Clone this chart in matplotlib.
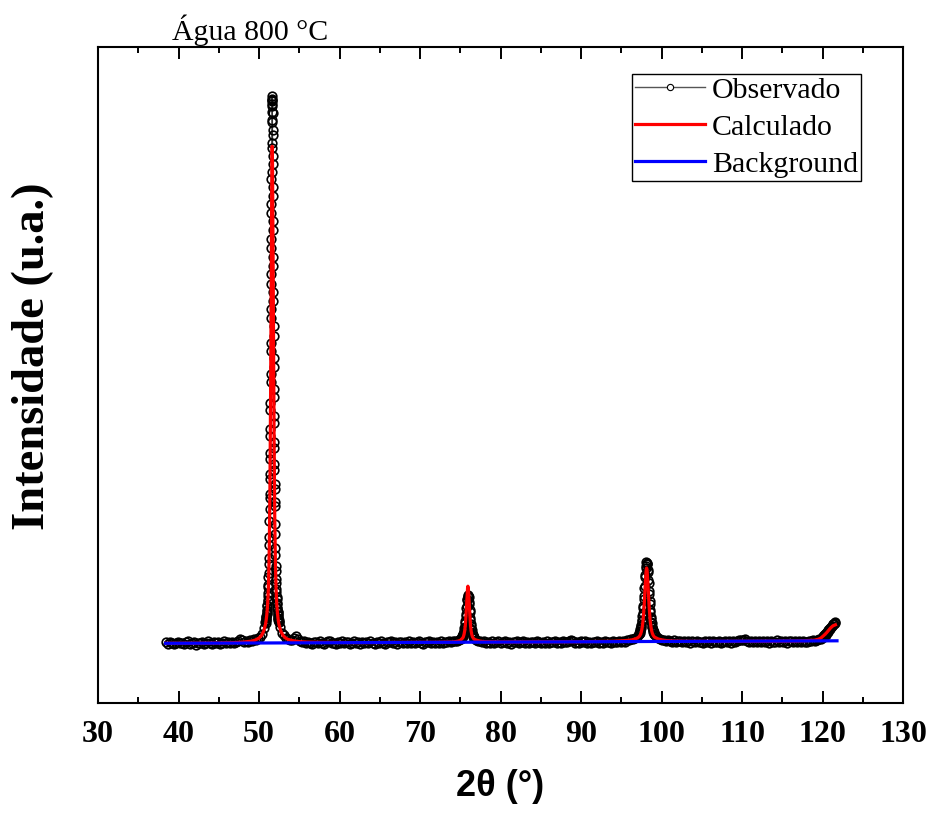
import numpy as np
import matplotlib
matplotlib.use("Agg")
import matplotlib.pyplot as plt
from matplotlib.lines import Line2D

plt.rcParams["font.family"] = ["Liberation Serif", "DejaVu Serif"]

# ---------------------------------------------------------------
# Observed pattern: blocks of (start 2θ, step, counts)
# ---------------------------------------------------------------
obs_a_start, obs_a_step = 38.40, 0.25
obs_a_counts = [606, 592, 611, 598, 587, 603, 615, 596, 601, 589, 608, 619, 594, 600,
                612, 585, 603, 597, 610, 593, 605, 616, 598, 590, 607, 601, 613, 595,
                604, 620, 597, 609, 602, 611, 599]

obs_b_start, obs_b_step = 47.15, 0.25
obs_b_counts = [611, 622, 640, 628, 609, 620, 613, 635, 624, 641, 633, 652, 660, 693, 748]

# (110) reflection: wings at 0.02°, top at 0.01°
obs_110l_start, obs_110l_step = 50.80, 0.02
obs_110l_counts = [810, 805, 830, 826, 851, 862, 866, 893, 897, 925, 934, 968, 979, 1016,
                   1030, 1075, 1098, 1156, 1185, 1259, 1302, 1390, 1455, 1578, 1660,
                   1821, 1937]

obs_110t_start, obs_110t_step = 51.33, 0.01
obs_110t_counts = [2050, 2095, 2236, 2290, 2440, 2498, 2670, 2745, 2930, 3002, 3210,
                   3290, 3520, 3602, 3850, 3940, 4195, 4290, 4552, 4645, 4905, 4990,
                   5245, 5315, 5555, 5600, 5810, 5830, 5990, 5975, 6070, 6035,
                   6020, 6045, 5915, 5900, 5730, 5680, 5470, 5395, 5160, 5070, 4820,
                   4730, 4465, 4375, 4110, 4020, 3770, 3675, 3450, 3360, 3145, 3065,
                   2870, 2800, 2615, 2550, 2390, 2335, 2190, 2140, 2010]

obs_110r_start, obs_110r_step = 51.96, 0.02
obs_110r_counts = [1970, 1788, 1690, 1550, 1480, 1366, 1324, 1240, 1201, 1139, 1114,
                   1060, 1045, 1001, 990, 952, 946, 911, 909, 880, 877, 851, 853, 828,
                   829, 807, 809]

obs_c_start, obs_c_step = 52.60, 0.25
obs_c_counts = [764, 697, 676, 648, 645, 627, 633, 646, 668, 641, 619, 606, 617, 598,
                612, 603, 594, 615, 608, 599, 620, 603, 591, 611, 624, 616, 598, 605,
                589, 612, 601, 618, 596, 607, 613, 592, 604, 621, 599, 608, 590, 614,
                603, 611, 597, 619, 605, 593, 609, 600, 616, 603, 595, 612, 606, 620,
                598, 609, 591, 607, 615, 602, 610, 596, 618, 604, 611, 599, 606, 621,
                603, 594, 612, 607, 617, 600, 609, 598, 613, 605, 619, 602, 611, 608,
                623, 614, 616, 621, 623, 634, 641]

obs_200_start, obs_200_step = 75.15, 0.04
obs_200_counts = [646, 657, 655, 671, 669, 688, 690, 714, 718, 751, 760, 802, 820, 868,
                  893, 947, 972, 1027, 1041, 1077, 1074,
                  1063, 1056, 1010, 988, 931, 906, 853, 832, 789, 773, 737, 729, 702,
                  699, 677, 678, 661, 663, 650, 652]

obs_d_start, obs_d_step = 77.00, 0.25
obs_d_counts = [635, 624, 619, 606, 618, 600, 612, 605, 619, 597, 610, 616, 603, 608,
                622, 600, 611, 594, 613, 606, 617, 601, 609, 620, 604, 612, 598, 615,
                607, 602, 618, 609, 596, 614, 605, 621, 600, 611, 607, 616, 603, 612,
                598, 619, 606, 614, 625, 631, 617, 604, 613, 600, 616, 608, 621, 603,
                611, 599, 615, 607, 620, 604, 612, 601, 618, 609, 614, 603, 619, 610,
                606, 621, 613, 618, 609, 630, 627, 639, 640, 655, 665]

obs_211_start, obs_211_step = 97.15, 0.04
obs_211_counts = [690, 686, 702, 699, 718, 721, 741, 746, 772, 781, 818, 830, 875, 896,
                  950, 975, 1042, 1070, 1148, 1175, 1258, 1282, 1355, 1368, 1410, 1404,
                  1395, 1386, 1334, 1308, 1233, 1197, 1122, 1093, 1020, 991, 933, 910,
                  861, 845, 806, 796, 762, 758, 733, 729, 709, 711, 693, 695, 681]

obs_e_start, obs_e_step = 99.35, 0.25
obs_e_counts = [666, 648, 643, 633, 634, 625, 627, 624, 612, 628, 609, 621, 616, 606,
                624, 613, 619, 603, 617, 610, 625, 608, 614, 601, 620, 611, 617, 605,
                622, 612, 607, 618, 604, 615, 621, 609, 616, 603, 620, 611, 618, 626,
                633, 629, 636, 624, 615, 621, 608, 617, 612, 624, 606, 619, 611, 616,
                603, 621, 609, 614, 626, 607, 618, 611, 622, 605, 616, 620, 609, 624,
                612, 618, 606, 621, 614, 609, 623, 616, 627, 619, 631, 638, 644]

obs_f_start, obs_f_step = 120.00, 0.08
obs_f_counts = [657, 668, 662, 679, 687, 684, 703, 712, 708, 728, 737, 746, 741, 762,
                771, 768, 786, 794, 790, 806, 798]

# ---------------------------------------------------------------
# Calculated profile
# ---------------------------------------------------------------
calc_110_start, calc_110_step = 50.80, 0.04
calc_110_counts = [785, 803, 824, 847, 875, 908, 948, 997, 1060, 1139, 1249, 1390,
                   1576, 1831, 2159, 2577, 3082, 3678, 4320, 4930, 5394, 5567,
                   5394, 4930, 4320, 3678, 3082, 2577, 2159, 1831, 1576, 1390, 1249,
                   1139, 1060, 997, 948, 908, 875, 847, 824, 803, 785]

calc_200_start, calc_200_step = 75.15, 0.04
calc_200_counts = [637, 639, 643, 647, 651, 657, 663, 673, 686, 701, 721, 746, 779,
                   819, 868, 924, 987, 1052, 1110, 1152, 1168,
                   1152, 1110, 1052, 987, 924, 868, 819, 779, 746, 721, 701, 686, 673,
                   663, 657, 651, 647, 643, 639, 637]

calc_211_start, calc_211_step = 97.15, 0.04
calc_211_counts = [658, 661, 665, 669, 674, 680, 687, 695, 705, 717, 732, 750, 771,
                   797, 827, 864, 908, 956, 1010, 1071, 1133, 1197, 1256, 1305, 1338,
                   1350,
                   1338, 1305, 1256, 1197, 1133, 1071, 1010, 956, 908, 864, 827, 797,
                   771, 750, 732, 717, 705, 695, 687, 680, 674, 669, 665, 661, 658]

calc_tail_2theta = [38.4, 42.0, 45.0, 47.0, 48.0, 49.0, 49.5, 50.0, 50.3, 50.6,
                    52.7, 53.0, 53.3, 53.6, 54.0, 54.5, 55.0, 56.0, 58.0, 62.0,
                    68.0, 72.0, 74.0, 74.6, 75.0,
                    77.0, 77.5, 78.0, 80.0, 90.0, 94.0, 95.5, 96.25, 96.75, 97.0,
                    99.35, 99.6, 100.0, 100.5, 101.5, 103.0, 106.0, 110.0, 114.0,
                    117.0, 119.0, 119.5, 119.8, 120.2, 120.5, 120.8, 121.0, 121.3,
                    121.6]
calc_tail_counts = [597, 598, 600, 604, 609, 618, 628, 649, 674, 722,
                    719, 674, 650, 636, 627, 619, 614, 609, 606, 604,
                    606, 607, 610, 616, 626,
                    629, 618, 613, 610, 613, 617, 624, 630, 641, 650,
                    650, 640, 632, 625, 620, 617, 616, 617, 618,
                    620, 628, 638, 650, 678, 702, 730, 750, 772,
                    782]

# Background
bg_2theta = [38.4, 50.0, 60.0, 76.0, 90.0, 98.0, 110.0, 121.8]
bg_counts = [597, 600, 603, 608, 612, 615, 618, 622]

x_ticks = [30, 40, 50, 60, 70, 80, 90, 100, 110, 120, 130]
legend_labels = ["Observado", "Calculado", "Background"]
title_text = "Água 800 °C"


def scan(start, step, counts):
    idx = np.arange(len(counts))
    return np.round(start + step * idx, 3), np.asarray(counts, dtype=float)


obs_blocks = [
    (obs_a_start, obs_a_step, obs_a_counts),
    (obs_b_start, obs_b_step, obs_b_counts),
    (obs_110l_start, obs_110l_step, obs_110l_counts),
    (obs_110t_start, obs_110t_step, obs_110t_counts),
    (obs_110r_start, obs_110r_step, obs_110r_counts),
    (obs_c_start, obs_c_step, obs_c_counts),
    (obs_200_start, obs_200_step, obs_200_counts),
    (obs_d_start, obs_d_step, obs_d_counts),
    (obs_211_start, obs_211_step, obs_211_counts),
    (obs_e_start, obs_e_step, obs_e_counts),
    (obs_f_start, obs_f_step, obs_f_counts),
]
ox, oy = zip(*[scan(*b) for b in obs_blocks])
obs_x = np.concatenate(ox)
obs_y = np.concatenate(oy)

calc_blocks = [
    (calc_110_start, calc_110_step, calc_110_counts),
    (calc_200_start, calc_200_step, calc_200_counts),
    (calc_211_start, calc_211_step, calc_211_counts),
]
cx, cy = zip(*[scan(*b) for b in calc_blocks])
calc_x = np.concatenate(list(cx) + [np.asarray(calc_tail_2theta)])
calc_y = np.concatenate(list(cy) + [np.asarray(calc_tail_counts, dtype=float)])
order = np.argsort(calc_x)
calc_x, calc_y = calc_x[order], calc_y[order]

# ---------------------------------------------------------------
fig = plt.figure(figsize=(9.33, 8.14), dpi=100)
ax = fig.add_axes([98 / 933, 1 - 703 / 814, 805 / 933, 656 / 814])

ax.plot(obs_x, obs_y, "-", color="#333333", lw=0.8, marker="o", ms=6.2,
        mfc="none", mec="black", mew=1.2, zorder=2)
ax.plot(calc_x, calc_y, "-", color="#ff0000", lw=2.3, zorder=3)
ax.plot(bg_2theta, bg_counts, "-", color="#0000ff", lw=2.3, zorder=4)

ax.set_xlim(30, 130)
ax.set_ylim(0, 6560)
ax.set_xticks(x_ticks)
ax.set_xticks(np.arange(35, 130, 10), minor=True)
ax.set_xticklabels([str(t) for t in x_ticks], fontsize=23, fontweight="bold")
ax.set_yticks([])
ax.tick_params(axis="x", which="major", direction="in", length=8.5, width=1.4,
               top=True, pad=12.5)
ax.tick_params(axis="x", which="minor", direction="in", length=4, width=1.4, top=True)
for s in ax.spines.values():
    s.set_linewidth(1.5)

ax.set_xlabel("2θ (°)", fontsize=26, fontweight="bold",
              family=["Liberation Sans", "DejaVu Sans"], labelpad=14)
fig.text(33 / 933, 1 - 356 / 814, "Intensidade (u.a.)", fontsize=33.5,
         fontweight="bold", rotation=90, ha="center", va="center")

fig.text(172 / 933, 1 - 40 / 814, title_text, fontsize=21.5, va="baseline", ha="left")

handles = [
    Line2D([], [], color="#555555", lw=1.0, marker="o", ms=4.5, mfc="white",
           mec="black", mew=0.8),
    Line2D([], [], color="#ff0000", lw=2.3),
    Line2D([], [], color="#0000ff", lw=2.3),
]
leg = ax.legend(handles, legend_labels, loc="upper right",
                bbox_to_anchor=(0.948, 0.959), borderaxespad=0, fontsize=21.5,
                frameon=True, fancybox=False, edgecolor="black", framealpha=1,
                handlelength=2.35, handletextpad=0.25, borderpad=0.1,
                labelspacing=0.34, numpoints=1)
leg.get_frame().set_linewidth(1.0)

fig.savefig("out.png", dpi=100)
